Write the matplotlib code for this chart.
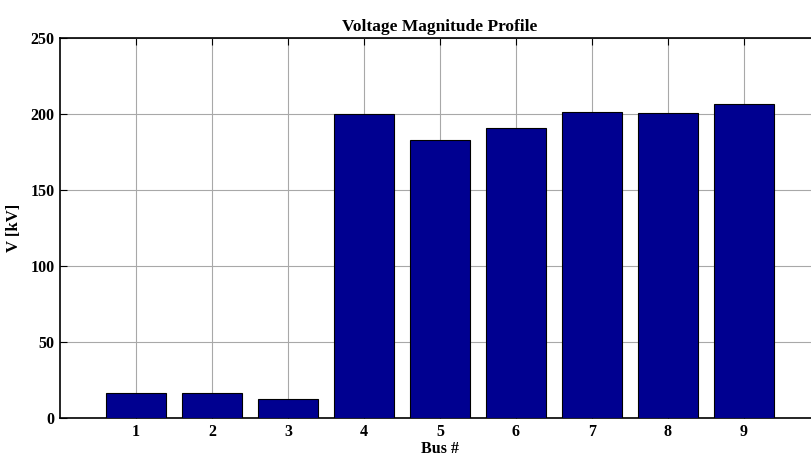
import numpy as np
import matplotlib
matplotlib.use('Agg')
import matplotlib.pyplot as plt

# bus voltage magnitudes from the load flow
buses = [1, 2, 3, 4, 5, 6, 7, 8, 9]
voltage_kv = [16.2, 16.6, 12.4, 200.0, 182.7, 190.6, 201.0, 200.4, 206.5]
yticks = [0, 50, 100, 150, 200, 250]

plt.rcParams['font.family'] = ['Liberation Serif', 'DejaVu Serif']
plt.rcParams['font.weight'] = 'bold'

fig = plt.figure(figsize=(8.11, 4.58), dpi=100)
# axes run past the right edge, as in the exported figure
ax = fig.add_axes([0.074, 0.087, 1.011 - 0.074, 0.831])

ax.bar(buses, voltage_kv, width=0.8, color='#000090', edgecolor='black',
       linewidth=0.8, zorder=3)

ax.set_xlim(0, 10)
ax.set_ylim(0, 250)
ax.set_xticks(buses)
ax.set_yticks(yticks)
ax.grid(True, color='#a8a8a8', linewidth=0.8, zorder=0)
ax.tick_params(direction='in', length=5, top=True, right=False,
               labelsize=11.5, width=0.8)
ax.tick_params(axis='x', pad=4)
ax.tick_params(axis='y', pad=4)
for lab in ax.get_xticklabels() + ax.get_yticklabels():
    lab.set_fontweight('bold')

for side in ['left', 'bottom', 'top']:
    ax.spines[side].set_linewidth(1.2)
ax.spines['right'].set_visible(False)

ax.set_title('Voltage Magnitude Profile', fontsize=12.5, fontweight='bold', pad=5)
ax.set_xlabel('Bus #', fontsize=11.5, fontweight='bold', labelpad=1)
ax.set_ylabel('V [kV]', fontsize=12, fontweight='bold', labelpad=6)

fig.savefig('out.png', dpi=100)
